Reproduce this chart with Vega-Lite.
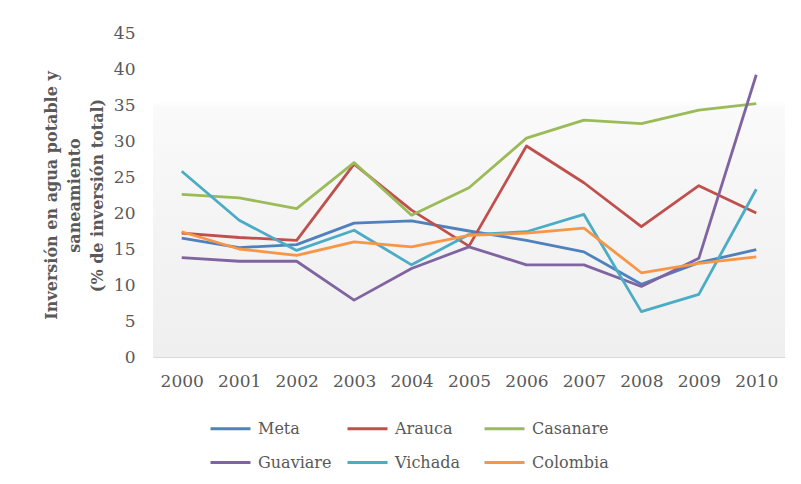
{
  "$schema": "https://vega.github.io/schema/vega-lite/v6.json",
  "width": 632,
  "height": 324,
  "autosize": "none",
  "padding": {"left": 153, "top": 33, "right": 16, "bottom": 127},
  "background": "white",
  "config": {
    "view": {"stroke": null},
    "font": "DejaVu Serif"
  },
  "datasets": {
    "inversion": [
      {"year": "2000", "region": "Meta", "value": 16.5},
      {"year": "2001", "region": "Meta", "value": 15.2},
      {"year": "2002", "region": "Meta", "value": 15.6},
      {"year": "2003", "region": "Meta", "value": 18.6},
      {"year": "2004", "region": "Meta", "value": 18.9},
      {"year": "2005", "region": "Meta", "value": 17.5},
      {"year": "2006", "region": "Meta", "value": 16.2},
      {"year": "2007", "region": "Meta", "value": 14.6},
      {"year": "2008", "region": "Meta", "value": 10.1},
      {"year": "2009", "region": "Meta", "value": 13.1},
      {"year": "2010", "region": "Meta", "value": 14.9},
      {"year": "2000", "region": "Arauca", "value": 17.2},
      {"year": "2001", "region": "Arauca", "value": 16.6},
      {"year": "2002", "region": "Arauca", "value": 16.2},
      {"year": "2003", "region": "Arauca", "value": 26.8},
      {"year": "2004", "region": "Arauca", "value": 20.4},
      {"year": "2005", "region": "Arauca", "value": 15.4},
      {"year": "2006", "region": "Arauca", "value": 29.3},
      {"year": "2007", "region": "Arauca", "value": 24.2},
      {"year": "2008", "region": "Arauca", "value": 18.1},
      {"year": "2009", "region": "Arauca", "value": 23.8},
      {"year": "2010", "region": "Arauca", "value": 20.0},
      {"year": "2000", "region": "Casanare", "value": 22.6},
      {"year": "2001", "region": "Casanare", "value": 22.1},
      {"year": "2002", "region": "Casanare", "value": 20.6},
      {"year": "2003", "region": "Casanare", "value": 27.0},
      {"year": "2004", "region": "Casanare", "value": 19.7},
      {"year": "2005", "region": "Casanare", "value": 23.5},
      {"year": "2006", "region": "Casanare", "value": 30.4},
      {"year": "2007", "region": "Casanare", "value": 32.9},
      {"year": "2008", "region": "Casanare", "value": 32.4},
      {"year": "2009", "region": "Casanare", "value": 34.3},
      {"year": "2010", "region": "Casanare", "value": 35.2},
      {"year": "2000", "region": "Guaviare", "value": 13.8},
      {"year": "2001", "region": "Guaviare", "value": 13.3},
      {"year": "2002", "region": "Guaviare", "value": 13.3},
      {"year": "2003", "region": "Guaviare", "value": 7.9},
      {"year": "2004", "region": "Guaviare", "value": 12.3},
      {"year": "2005", "region": "Guaviare", "value": 15.3},
      {"year": "2006", "region": "Guaviare", "value": 12.8},
      {"year": "2007", "region": "Guaviare", "value": 12.8},
      {"year": "2008", "region": "Guaviare", "value": 9.8},
      {"year": "2009", "region": "Guaviare", "value": 13.7},
      {"year": "2010", "region": "Guaviare", "value": 39.2},
      {"year": "2000", "region": "Vichada", "value": 25.8},
      {"year": "2001", "region": "Vichada", "value": 19.0},
      {"year": "2002", "region": "Vichada", "value": 14.8},
      {"year": "2003", "region": "Vichada", "value": 17.6},
      {"year": "2004", "region": "Vichada", "value": 12.8},
      {"year": "2005", "region": "Vichada", "value": 17.0},
      {"year": "2006", "region": "Vichada", "value": 17.4},
      {"year": "2007", "region": "Vichada", "value": 19.8},
      {"year": "2008", "region": "Vichada", "value": 6.3},
      {"year": "2009", "region": "Vichada", "value": 8.7},
      {"year": "2010", "region": "Vichada", "value": 23.3},
      {"year": "2000", "region": "Colombia", "value": 17.4},
      {"year": "2001", "region": "Colombia", "value": 15.0},
      {"year": "2002", "region": "Colombia", "value": 14.1},
      {"year": "2003", "region": "Colombia", "value": 16.0},
      {"year": "2004", "region": "Colombia", "value": 15.3},
      {"year": "2005", "region": "Colombia", "value": 16.9},
      {"year": "2006", "region": "Colombia", "value": 17.2},
      {"year": "2007", "region": "Colombia", "value": 17.9},
      {"year": "2008", "region": "Colombia", "value": 11.7},
      {"year": "2009", "region": "Colombia", "value": 13.0},
      {"year": "2010", "region": "Colombia", "value": 13.9}
    ]
  },
  "resolve": {"scale": {"y": "shared"}, "axis": {"y": "shared"}},
  "layer": [
    {
      "data": {"values": [{"top": 45, "bottom": 0}]},
      "mark": {
        "type": "rect",
        "color": {
          "gradient": "linear",
          "x1": 0, "y1": 0, "x2": 0, "y2": 1,
          "stops": [
            {"offset": 0, "color": "#ffffff"},
            {"offset": 0.21, "color": "#ffffff"},
            {"offset": 0.23, "color": "#fafafa"},
            {"offset": 0.6, "color": "#f4f4f4"},
            {"offset": 1, "color": "#efefef"}
          ]
        }
      },
      "encoding": {
        "y": {
          "field": "top",
          "type": "quantitative",
          "scale": {"domain": [0, 45], "nice": false},
          "axis": {
            "tickCount": 9,
            "labelOverlap": false,
            "labelBound": false,
            "title": ["Inversión en agua potable y", "saneamiento", "(% de inversión total)"],
            "titleFont": "DejaVu Serif",
            "titleFontSize": 16,
            "titleFontWeight": "bold",
            "titleColor": "#595959",
            "titleLineHeight": 23,
            "titlePadding": 8,
            "labelFont": "DejaVu Serif",
            "labelFontSize": 17,
            "labelColor": "#595959",
            "labelPadding": 18,
            "ticks": false,
            "domain": false,
            "grid": false
          }
        },
        "y2": {"field": "bottom"}
      }
    },
    {
      "data": {"name": "inversion"},
      "mark": {"type": "line", "strokeWidth": 2.8, "strokeJoin": "round"},
      "encoding": {
        "x": {
          "field": "year",
          "type": "ordinal",
          "scale": {"type": "point", "padding": 0.5},
          "axis": {
            "title": null,
            "labelAngle": 0,
            "labelFont": "DejaVu Serif",
            "labelFontSize": 17,
            "labelColor": "#595959",
            "labelPadding": 16,
            "ticks": false,
            "domain": true,
            "domainColor": "#d9d9d9",
            "domainWidth": 1,
            "grid": true,
            "gridColor": "#e3e3e3",
            "gridWidth": 1
          }
        },
        "y": {"field": "value", "type": "quantitative"},
        "color": {
          "field": "region",
          "type": "nominal",
          "scale": {
            "domain": ["Meta", "Arauca", "Casanare", "Guaviare", "Vichada", "Colombia"],
            "range": ["#4F81BD", "#C0504D", "#9BBB59", "#8064A2", "#4BACC6", "#F79646"]
          },
          "legend": {
            "title": null,
            "orient": "none",
            "direction": "horizontal",
            "legendX": 56,
            "legendY": 374,
            "columns": 3,
            "gridAlign": "all",
            "symbolType": "stroke",
            "symbolSize": 1600,
            "symbolStrokeWidth": 3,
            "labelFont": "DejaVu Serif",
            "labelFontSize": 16,
            "labelColor": "#595959",
            "labelOffset": 6,
            "rowPadding": 4,
            "columnPadding": 6
          }
        }
      }
    }
  ]
}
